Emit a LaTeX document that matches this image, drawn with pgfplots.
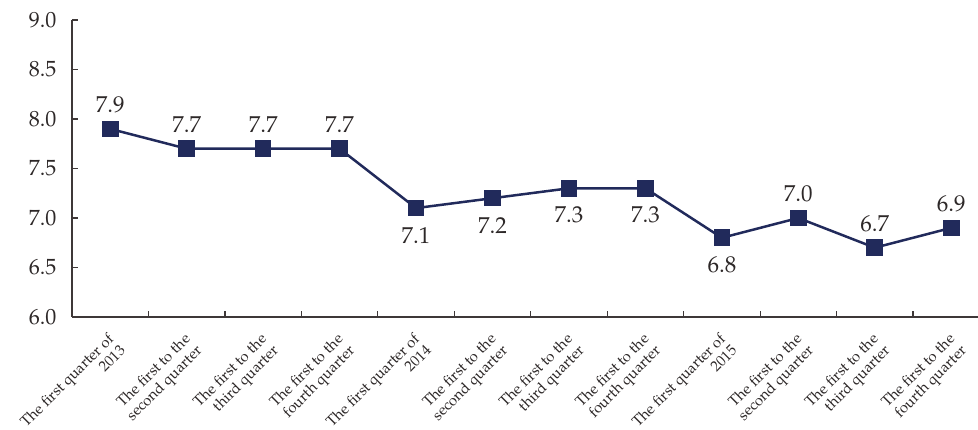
\documentclass[border=0pt]{standalone}
\usepackage{pgfplots}
\pgfplotsset{compat=1.18}
\usepackage{pgfplotstable}
\usepackage{fontspec}
\setmainfont{texgyrepagella-regular.otf}

\definecolor{navy}{RGB}{33,42,91}
\definecolor{axisgray}{RGB}{62,56,56}
\definecolor{textgray}{RGB}{45,40,40}

% cumulative growth by period; pos: 1 = label above, -1 = label below
\pgfplotstableread{
x y pos
0 7.9 1
1 7.7 1
2 7.7 1
3 7.7 1
4 7.1 -1
5 7.2 -1
6 7.3 -1
7 7.3 -1
8 6.8 -1
9 7.0 1
10 6.7 1
11 6.9 1
}\growth

\begin{document}
\begin{tikzpicture}
\useasboundingbox (-72pt,-113pt) rectangle (906pt,317pt);
\begin{axis}[
  scale only axis,
  width=906pt, height=297pt,
  xmin=-0.5, xmax=11.35,
  ymin=6, ymax=9,
  axis x line*=bottom,
  axis y line*=left,
  axis line style={draw=axisgray, line width=1.2pt},
  tick style={draw=axisgray, line width=1.2pt},
  tick align=inside,
  major tick length=6pt,
  ytick={6,6.5,7,7.5,8,8.5,9},
  /pgf/number format/.cd, fixed, fixed zerofill, precision=1, assume math mode=true,
  /pgfplots/.cd,
  yticklabel style={font=\fontsize{22}{24}\selectfont, text=textgray, xshift=-12pt},
  xtick={0.5,1.5,...,10.5},
  xticklabels={},
  extra x ticks={0,1,...,11},
  extra x tick labels={
    {The first quarter of\\2013},
    {The first to the\\second quarter},
    {The first to the\\third quarter},
    {The first to the\\fourth quarter},
    {The first quarter of\\2014},
    {The first to the\\second quarter},
    {The first to the\\third quarter},
    {The first to the\\fourth quarter},
    {The first quarter of\\2015},
    {The first to the\\second quarter},
    {The first to the\\third quarter},
    {The first to the\\fourth quarter}},
  extra x tick style={major tick length=0pt,
    tick label style={rotate=45, anchor=north east, align=right,
      xshift=-12pt, yshift=-7pt, inner sep=1pt,
      font=\fontsize{15}{16.5}\selectfont, text=textgray}},
  clip=false,
]
\addplot[navy, line width=2.5pt,
  mark=square*, mark size=7.8pt,
  mark options={solid, fill=navy, line width=1pt},
  nodes near coords, point meta=y,
  visualization depends on={\thisrow{pos}\as\lpos},
  every node near coord/.append style={anchor=center,
    yshift={(\lpos>0)*51pt-27pt},
    font=\fontsize{23}{25}\selectfont, text=textgray}]
  table[x=x, y=y] {\growth};
\end{axis}
\end{tikzpicture}
\end{document}
